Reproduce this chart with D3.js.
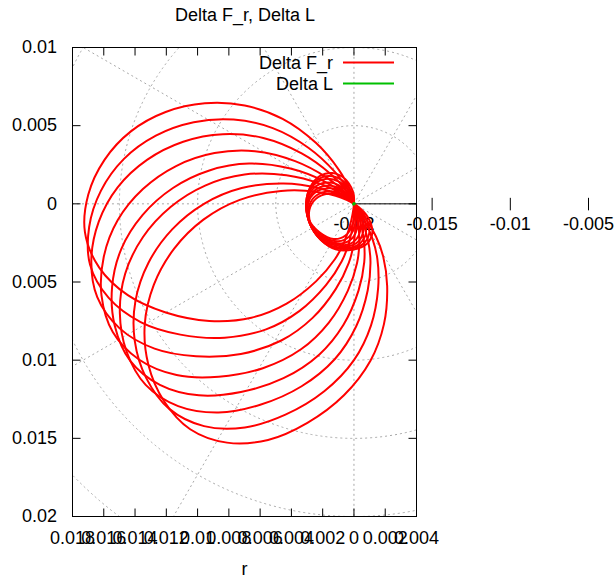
<!DOCTYPE html>
<html><head><meta charset="utf-8">
<script src="https://cdn.jsdelivr.net/npm/d3@7"></script>
<style>
body{margin:0;background:#fff}
svg{display:block;background:#fff}
text{font-family:"Liberation Sans",Arial,Helvetica,sans-serif;fill:#000}
</style>
</head><body>
<svg id="chart" width="615" height="582"></svg>
<script>
// ---------- chart text ----------
const titleText = "Delta F_r, Delta L";
const xLabelText = "r";
const seriesNames = ["Delta F_r", "Delta L"];

// ---------- axes ----------
const xTicks = [-0.018,-0.016,-0.014,-0.012,-0.01,-0.008,-0.006,-0.004,-0.002,0,0.002,0.004];
const yTicks = [0.01,0.005,0,-0.005,-0.01,-0.015,-0.02];
const rTicks = [-0.02,-0.015,-0.01,-0.005];
const gridR = [-0.015,-0.01,-0.005,0,0.005];
const gridAngles = [0,30,60,90,120,150,180,210,240,270,300,330];

// ---------- Delta F_r : 8 curves, polar (theta in degrees, r) ----------
const fr1Theta = [0,20,40,60,75,88,98,106,114,122,130,138,146,154,162,170,178,186,194,202,210,219,228,236,244,251,256,261,268,275,290,305,320,340];
const fr1R = [-0.02305,-0.02305,-0.02285,-0.0226,-0.0221,-0.0212,-0.0203,-0.0191,-0.0176,-0.0154,-0.0129,-0.0106,-0.0085,-0.0066,-0.005,-0.0038,-0.003,-0.0027,-0.0032,-0.0044,-0.0061,-0.0081,-0.0102,-0.0123,-0.0145,-0.01625,-0.01755,-0.01895,-0.0203,-0.0208,-0.0217,-0.0224,-0.0228,-0.023];

const fr2Theta = [7,27,47,67,82,95,105,113,121,129,137,145,153,161,169,177,185,193,201,209,217,226,235,243,251,258,263,268,275,282,297,312,327,347];
const fr2R = [-0.02306,-0.02305,-0.02286,-0.0226,-0.0221,-0.0212,-0.0203,-0.0191,-0.0176,-0.0154,-0.0129,-0.0106,-0.0085,-0.0066,-0.005,-0.0038,-0.003,-0.00268,-0.0032,-0.0044,-0.0061,-0.0081,-0.0102,-0.0123,-0.0145,-0.01625,-0.01755,-0.01895,-0.0203,-0.0208,-0.0217,-0.0224,-0.0228,-0.02302];

const fr3Theta = [14,34,54,74,89,102,112,120,128,136,144,152,160,168,176,184,192,200,208,216,224,233,242,250,258,265,270,275,282,289,304,319,334,354];
const fr3R = [-0.02308,-0.02308,-0.02288,-0.02263,-0.02212,-0.02121,-0.0203,-0.01909,-0.01758,-0.01535,-0.01283,-0.01051,-0.00838,-0.00647,-0.00485,-0.00364,-0.00283,-0.00253,-0.00303,-0.00424,-0.00596,-0.00798,-0.0101,-0.01222,-0.01444,-0.01621,-0.01753,-0.01894,-0.0203,-0.02081,-0.02172,-0.02242,-0.02283,-0.02303];

const fr4Theta = [22,42,62,82,97,110,120,128,136,144,152,160,168,176,184,192,200,208,216,224,232,241,250,258,266,273,278,283,290,297,312,327,342,362];
const fr4R = [-0.02309,-0.02308,-0.02288,-0.02263,-0.02212,-0.02121,-0.0203,-0.01909,-0.01758,-0.01535,-0.01283,-0.01051,-0.00837,-0.00647,-0.00485,-0.00364,-0.00282,-0.00253,-0.00303,-0.00423,-0.00596,-0.00798,-0.0101,-0.01222,-0.01444,-0.01621,-0.01753,-0.01894,-0.0203,-0.02081,-0.02172,-0.02242,-0.02283,-0.02304];

const fr5Theta = [29,49,69,89,104,117,127,135,143,151,159,167,175,183,191,199,207,215,223,231,239,248,257,265,273,280,285,290,297,304,319,334,349,369];
const fr5R = [-0.02308,-0.02309,-0.02288,-0.02263,-0.02212,-0.02121,-0.0203,-0.01909,-0.01758,-0.01535,-0.01282,-0.01051,-0.00838,-0.00647,-0.00484,-0.00364,-0.00283,-0.00252,-0.00303,-0.00424,-0.00596,-0.00797,-0.0101,-0.01222,-0.01444,-0.01621,-0.01753,-0.01894,-0.0203,-0.02081,-0.02172,-0.02242,-0.02283,-0.02303];

const fr6Theta = [35,55,75,95,110,123,133,141,149,157,165,173,181,189,197,205,213,221,229,237,245,254,263,271,279,286,291,296,303,310,325,340,355,375];
const fr6R = [-0.02311,-0.02311,-0.02291,-0.02265,-0.02214,-0.02122,-0.02031,-0.01908,-0.01755,-0.01531,-0.01276,-0.01041,-0.00827,-0.00633,-0.0047,-0.00348,-0.00266,-0.00235,-0.00286,-0.00409,-0.00582,-0.00786,-0.01,-0.01215,-0.01439,-0.01617,-0.0175,-0.01893,-0.02031,-0.02082,-0.02173,-0.02245,-0.02286,-0.02306];

const fr7Theta = [42,62,82,102,117,130,140,148,156,164,172,180,188,196,204,212,220,228,236,244,252,261,270,278,286,293,298,303,310,317,332,347,362,382];
const fr7R = [-0.02311,-0.02312,-0.02291,-0.02265,-0.02214,-0.02122,-0.02031,-0.01908,-0.01755,-0.01531,-0.01275,-0.01041,-0.00826,-0.00633,-0.0047,-0.00347,-0.00266,-0.00235,-0.00285,-0.00409,-0.00582,-0.00786,-0.01,-0.01215,-0.01439,-0.01617,-0.0175,-0.01893,-0.02031,-0.02082,-0.02173,-0.02245,-0.02286,-0.02306];

const fr8Theta = [48,68,88,108,123,136,146,154,162,170,178,186,194,202,210,218,226,234,242,250,258,267,276,284,292,299,304,309,316,323,338,353,368,388];
const fr8R = [-0.02314,-0.02314,-0.02294,-0.02268,-0.02216,-0.02124,-0.02031,-0.01907,-0.01753,-0.01526,-0.01269,-0.01032,-0.00815,-0.0062,-0.00455,-0.00331,-0.00249,-0.00218,-0.0027,-0.00393,-0.00568,-0.00774,-0.00991,-0.01207,-0.01433,-0.01614,-0.01748,-0.01892,-0.02031,-0.02082,-0.02175,-0.02247,-0.02288,-0.02309];

// ---------- Delta L (stays at the pole) ----------
const dlTheta = [0,45,90,135,180,225,270,315];
const dlR = [-0.01994,-0.01995,-0.01994,-0.01996,-0.01995,-0.01994,-0.01995,-0.01996];

const frCurves = [
  [fr1Theta, fr1R],[fr2Theta, fr2R],[fr3Theta, fr3R],[fr4Theta, fr4R],
  [fr5Theta, fr5R],[fr6Theta, fr6R],[fr7Theta, fr7R],[fr8Theta, fr8R]
];

// ---------- layout ----------
const box = {left: 72.5, right: 416.5, top: 47.5, bottom: 516.5};
const colors = {fr: "#ff0000", dl: "#00c000", grid: "#a8a8a8"};
const FONT = 18;

const svg = d3.select("#chart");
const x = d3.scaleLinear().domain([-0.018, 0.004]).range([box.left, box.right]);
const y = d3.scaleLinear().domain([0.01, -0.02]).range([box.top, box.bottom]);
const rho = d3.scaleLinear().domain([-0.02, 0]).range([0, 0.02]); // r -> distance from pole
const rad = d => d * Math.PI / 180;
const ox = x(0), oy = y(0);

svg.append("defs").append("clipPath").attr("id", "clip")
  .append("rect").attr("x", box.left).attr("y", box.top)
  .attr("width", box.right - box.left).attr("height", box.bottom - box.top);

// ---------- polar grid ----------
const grid = svg.append("g").attr("clip-path", "url(#clip)")
  .attr("fill", "none").attr("stroke", colors.grid).attr("stroke-width", 1)
  .attr("stroke-dasharray", "2,3");
grid.selectAll("circle").data(gridR).join("circle")
  .attr("cx", ox).attr("cy", oy)
  .attr("r", d => x(rho(d)) - ox);
grid.selectAll("line").data(gridAngles).join("line")
  .attr("x1", ox).attr("y1", oy)
  .attr("x2", a => x(0.03 * Math.cos(rad(a))))
  .attr("y2", a => y(0.03 * Math.sin(rad(a))));

// ---------- border + cartesian tics ----------
const fmtAbs = d => { const v = Math.abs(d); return v === 0 ? "0" : d3.format("~g")(+v.toFixed(4)); };
function styleAxis(g, keepText) {
  g.select(".domain").remove();
  g.selectAll(".tick line").attr("stroke", "#000").attr("stroke-width", 1);
  g.selectAll("text").attr("font-size", FONT).attr("font-family", null).attr("fill", "#000");
  if (!keepText) g.selectAll("text").remove();
}
svg.append("g").attr("transform", `translate(0,${box.bottom})`)
  .call(d3.axisBottom(x).tickValues(xTicks).tickSizeInner(-8).tickSizeOuter(0).tickPadding(15).offset(0).tickFormat(fmtAbs))
  .call(g => styleAxis(g, true));
svg.append("g").attr("transform", `translate(0,${box.top})`)
  .call(d3.axisTop(x).tickValues(xTicks).tickSizeInner(-8).tickSizeOuter(0).offset(0))
  .call(g => styleAxis(g, false));
svg.append("g").attr("transform", `translate(${box.left},0)`)
  .call(d3.axisLeft(y).tickValues(yTicks).tickSizeInner(-8).tickSizeOuter(0).tickPadding(15.5).offset(0).tickFormat(fmtAbs))
  .call(g => styleAxis(g, true));
svg.append("g").attr("transform", `translate(${box.right},0)`)
  .call(d3.axisRight(y).tickValues(yTicks).tickSizeInner(-8).tickSizeOuter(0).offset(0))
  .call(g => styleAxis(g, false));
svg.append("rect").attr("x", box.left).attr("y", box.top)
  .attr("width", box.right - box.left).attr("height", box.bottom - box.top)
  .attr("fill", "none").attr("stroke", "#000").attr("stroke-width", 1);

// ---------- polar r axis ----------
svg.append("line").attr("x1", ox).attr("y1", oy).attr("x2", box.right).attr("y2", oy)
  .attr("stroke", "#000").attr("stroke-width", 1);
const rAxis = svg.append("g");
rAxis.selectAll("line").data(rTicks).join("line")
  .attr("x1", d => x(rho(d))).attr("x2", d => x(rho(d)))
  .attr("y1", oy - 6).attr("y2", oy + 6.5)
  .attr("stroke", "#000").attr("stroke-width", 1);
rAxis.selectAll("text").data(rTicks).join("text")
  .attr("x", d => x(rho(d))).attr("y", oy + 26.5)
  .attr("text-anchor", "middle").attr("font-size", FONT)
  .text(d => String(d));

// ---------- titles ----------
svg.append("text").attr("x", 245).attr("y", 21).attr("text-anchor", "middle")
  .attr("font-size", FONT).text(titleText);
svg.append("text").attr("x", (box.left + box.right) / 2).attr("y", 575).attr("text-anchor", "middle")
  .attr("font-size", FONT).text(xLabelText);

// ---------- curves ----------
const polarLine = d3.line()
  .x(p => x(rho(p[1]) * Math.cos(rad(p[0]))))
  .y(p => y(rho(p[1]) * Math.sin(rad(p[0]))))
  .curve(d3.curveCatmullRomClosed.alpha(0.5));
const plotG = svg.append("g").attr("clip-path", "url(#clip)");
plotG.selectAll("path.fr").data(frCurves).join("path").attr("class", "fr")
  .attr("d", c => polarLine(d3.zip(c[0], c[1])))
  .attr("fill", "none").attr("stroke", colors.fr).attr("stroke-width", 2)
  .attr("stroke-linejoin", "round");
plotG.append("path").attr("d", polarLine(d3.zip(dlTheta, dlR)))
  .attr("fill", "none").attr("stroke", colors.dl).attr("stroke-width", 2);

// ---------- legend ----------
const legend = svg.append("g");
const legendRows = [{name: seriesNames[0], color: colors.fr}, {name: seriesNames[1], color: colors.dl}];
legendRows.forEach((d, i) => {
  const by = 69 + i * 21;
  legend.append("text").attr("x", 333).attr("y", by).attr("text-anchor", "end")
    .attr("font-size", FONT).text(d.name);
  legend.append("line").attr("x1", 343).attr("x2", 394).attr("y1", by - 6.5).attr("y2", by - 6.5)
    .attr("stroke", d.color).attr("stroke-width", 2);
});
</script>
</body></html>
